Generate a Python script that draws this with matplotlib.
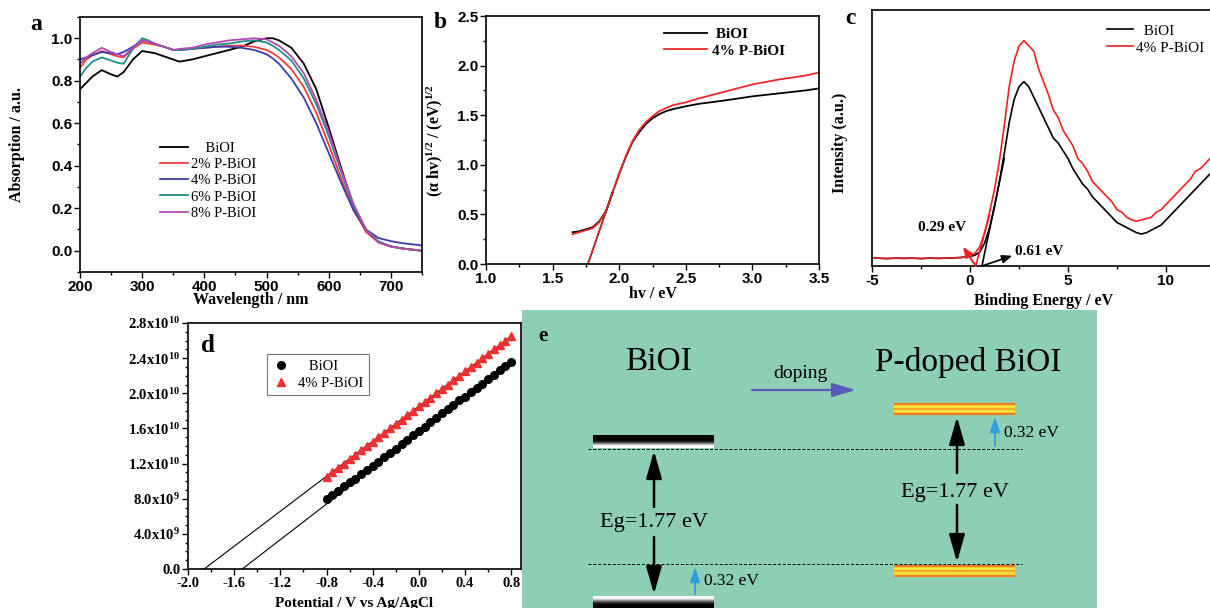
import numpy as np
import matplotlib
matplotlib.use("Agg")
import matplotlib.pyplot as plt
from matplotlib.ticker import MultipleLocator, FixedLocator, FixedFormatter
from matplotlib.patches import FancyArrowPatch
from matplotlib.colors import ListedColormap

plt.rcParams["font.family"] = "Liberation Sans"
plt.rcParams["axes.unicode_minus"] = False
plt.rcParams["mathtext.fontset"] = "custom"
plt.rcParams["mathtext.rm"] = "Liberation Serif"
plt.rcParams["mathtext.it"] = "Liberation Serif:italic"
plt.rcParams["mathtext.bf"] = "Liberation Serif:bold"
SERIF = "Liberation Serif"

# ---------------------------------------------------------
# data: (a) UV-vis absorption
# ---------------------------------------------------------
wl = [200, 210, 220, 235, 250, 260, 270, 285, 300, 310, 320, 335, 350, 360, 380, 400, 420,
      440, 460, 480, 500, 510, 520, 540, 560, 580, 600, 620, 640, 660, 680, 700, 720, 750]
abs_biol = [.76, .79, .82, .85, .83, .82, .84, .90, .94, .935, .93, .915, .90, .89, .90, .915, .93,
            .945, .96, .985, 1.0, 1.0, .99, .955, .88, .76, .58, .39, .21, .09, .04, .02, .01, .0]
abs_p2 = [.86, .90, .92, .94, .925, .915, .91, .95, .98, .975, .97, .96, .945, .945, .95, .955, .96,
          .965, .965, .96, .945, .93, .91, .855, .77, .65, .50, .34, .19, .09, .04, .02, .01, .0]
abs_p4 = [.90, .91, .92, .935, .93, .925, .935, .96, .99, .985, .975, .96, .945, .945, .95, .955, .96,
          .96, .955, .945, .925, .905, .88, .81, .72, .60, .46, .32, .19, .10, .06, .045, .035, .025]
abs_p6 = [.82, .86, .89, .91, .895, .885, .88, .95, 1.0, .99, .975, .96, .945, .945, .95, .96, .97,
          .975, .985, .99, .98, .965, .945, .895, .81, .69, .54, .37, .21, .10, .045, .02, .01, .0]
abs_p8 = [.88, .91, .93, .955, .935, .925, .915, .955, .99, .985, .975, .96, .945, .95, .955, .97, .98,
          .99, .995, 1.0, .995, .98, .965, .915, .835, .71, .56, .38, .22, .10, .04, .02, .01, .0]

# (b) Tauc plot
hv = [1.65, 1.70, 1.75, 1.80, 1.85, 1.90, 1.95, 2.00, 2.05, 2.10, 2.15, 2.20, 2.25, 2.30, 2.35,
      2.40, 2.50, 2.60, 2.80, 3.00, 3.20, 3.40, 3.50]
tauc_biol = [.32, .33, .35, .37, .43, .53, .72, .91, 1.08, 1.23, 1.33, 1.41, 1.47, 1.51, 1.54,
             1.56, 1.59, 1.615, 1.65, 1.69, 1.72, 1.75, 1.77]
tauc_p4 = [.30, .32, .34, .36, .42, .53, .72, .91, 1.09, 1.24, 1.35, 1.43, 1.49, 1.54, 1.57,
           1.60, 1.63, 1.67, 1.74, 1.81, 1.86, 1.90, 1.93]
eg_fit_x = [1.765, 1.95]
eg_fit_y = [0.0, 0.72]

# (c) VB-XPS
be = np.arange(-5.0, 12.51, 0.25)
xps_biol = [.030, .031, .030, .029, .030, .031, .030, .030, .031, .030, .029, .030, .031, .030,
            .030, .031, .031, .032, .033, .035,
            .038, .042, .055, .09, .15, .23, .33, .44, .56, .65, .70, .72, .70, .66, .62, .58,
            .54, .50, .48, .45, .42, .38, .35, .32, .30, .27, .25, .23, .21, .19, .17, .16,
            .15, .14, .13, .125, .13, .14, .15, .16, .18, .20, .22, .24, .26, .28, .30, .32,
            .34, .36, .38]
xps_p4 = [.030, .031, .030, .029, .030, .031, .030, .030, .031, .030, .029, .030, .031, .030,
          .030, .031, .032, .032, .033, .035,
          .040, .050, .075, .13, .21, .30, .41, .55, .70, .80, .86, .88, .86, .84, .77, .72,
          .67, .61, .58, .53, .50, .47, .42, .40, .37, .33, .31, .29, .27, .25, .22, .21,
          .19, .18, .175, .18, .185, .19, .21, .22, .24, .26, .28, .30, .32, .34, .37, .38,
          .40, .42, .45]
vb_fit_biol_x = [0.61, 1.75]
vb_fit_biol_y = [0.0, 0.42]
vb_fit_p4_x = [0.29, 1.0]
vb_fit_p4_y = [0.0, 0.20]

# (d) Mott-Schottky
pot = [-0.80, -0.75, -0.70, -0.65, -0.60, -0.55, -0.50, -0.45, -0.40, -0.35, -0.30, -0.25,
       -0.20, -0.15, -0.10, -0.05, 0.00, 0.05, 0.10, 0.15, 0.20, 0.25, 0.30, 0.35, 0.40,
       0.45, 0.50, 0.55, 0.60, 0.65, 0.70, 0.75, 0.80]
ms_biol = [0.80, 0.84, 0.89, 0.94, 0.99, 1.03, 1.08, 1.13, 1.17, 1.22, 1.27, 1.32, 1.37, 1.42,
           1.47, 1.52, 1.57, 1.62, 1.67, 1.72, 1.77, 1.82, 1.87, 1.92, 1.96, 2.01, 2.06, 2.11,
           2.16, 2.21, 2.26, 2.31, 2.36]
ms_p4 = [1.05, 1.10, 1.15, 1.20, 1.25, 1.30, 1.35, 1.40, 1.45, 1.50, 1.55, 1.60, 1.65, 1.70,
         1.75, 1.80, 1.85, 1.90, 1.95, 2.00, 2.05, 2.10, 2.15, 2.20, 2.25, 2.30, 2.35, 2.40,
         2.45, 2.50, 2.55, 2.60, 2.65]
fb_biol = [-1.53, 0.80]
fb_biol_y = [0.0, 2.36]
fb_p4 = [-1.86, 0.80]
fb_p4_y = [0.0, 2.65]
ms_yticks = [0.0, 0.4, 0.8, 1.2, 1.6, 2.0, 2.4, 2.8]
ms_ylabels = ["0.0", r"4.0x10$^{\mathbf{9}}$", r"8.0x10$^{\mathbf{9}}$", r"1.2x10$^{\mathbf{10}}$",
              r"1.6x10$^{\mathbf{10}}$", r"2.0x10$^{\mathbf{10}}$", r"2.4x10$^{\mathbf{10}}$",
              r"2.8x10$^{\mathbf{10}}$"]

W, H = 1210, 608


def px_axes(l, t, r, b):
    return fig.add_axes([l / W, (H - b) / H, (r - l) / W, (b - t) / H])


def style(ax, sans=True):
    for s in ax.spines.values():
        s.set_linewidth(1.2)
    ax.tick_params(which="both", direction="out", top=False, right=False, width=1.0)
    ax.tick_params(which="major", length=4, pad=1.5, labelsize=11)
    ax.tick_params(which="minor", length=2.5)
    for lab in ax.get_xticklabels() + ax.get_yticklabels():
        lab.set_fontweight("bold")
        if not sans:
            lab.set_fontfamily(SERIF)


def panel_label(x, y, s, size=17):
    fig.text(x / W, 1 - y / H, s, fontfamily=SERIF, fontweight="bold", fontsize=size,
             ha="center", va="center")


fig = plt.figure(figsize=(W / 100, H / 100), dpi=100)

# ---------------------------------------------------------
# (a)
# ---------------------------------------------------------
ax = px_axes(80, 17, 422, 272)
ax.plot(wl, abs_biol, color="black", lw=1.3, label="    BiOI")
ax.plot(wl, abs_p2, color="#f03a3a", lw=1.3, label="2% P-BiOI")
ax.plot(wl, abs_p4, color="#3a3fa8", lw=1.3, label="4% P-BiOI")
ax.plot(wl, abs_p6, color="#1f8f8a", lw=1.3, label="6% P-BiOI")
ax.plot(wl, abs_p8, color="#b548b5", lw=1.3, label="8% P-BiOI")
ax.set_xlim(200, 750)
ax.set_ylim(-0.1, 1.1)
ax.xaxis.set_major_locator(FixedLocator([200, 300, 400, 500, 600, 700]))
ax.xaxis.set_minor_locator(MultipleLocator(50))
ax.yaxis.set_major_locator(FixedLocator([0.0, 0.2, 0.4, 0.6, 0.8, 1.0]))
ax.yaxis.set_minor_locator(MultipleLocator(0.1))
ax.yaxis.set_major_formatter(lambda v, p: f"{v:.1f}")
style(ax)
ax.set_xlabel("Wavelength / nm", fontfamily=SERIF, fontweight="bold", fontsize=11.5)
ax.set_ylabel("Absorption / a.u.", fontfamily=SERIF, fontweight="bold", fontsize=11.5)
ax.xaxis.set_label_coords(0.5, -0.078)
ax.yaxis.set_label_coords(-0.16, 0.5)
ax.legend(loc="upper left", bbox_to_anchor=(0.235, 0.51), frameon=False,
          prop={"family": SERIF, "size": 10.5}, handlelength=1.9, handletextpad=0.2,
          labelspacing=0.2, borderpad=0, borderaxespad=0)
panel_label(36, 24, "a")

# ---------------------------------------------------------
# (b)
# ---------------------------------------------------------
ax = px_axes(486, 16, 819, 264)
ax.plot(hv, tauc_biol, color="black", lw=1.3, label=" BiOI")
ax.plot(hv, tauc_p4, color="#f02828", lw=1.3, label="4% P-BiOI")
ax.plot(eg_fit_x, eg_fit_y, color="black", lw=1.2)
ax.plot(eg_fit_x, eg_fit_y, color="#f02828", lw=1.0)
ax.set_xlim(1.0, 3.5)
ax.set_ylim(0, 2.5)
ax.xaxis.set_major_locator(MultipleLocator(0.5))
ax.xaxis.set_minor_locator(MultipleLocator(0.25))
ax.yaxis.set_major_locator(MultipleLocator(0.5))
ax.yaxis.set_minor_locator(MultipleLocator(0.25))
ax.xaxis.set_major_formatter(lambda v, p: f"{v:.1f}")
ax.yaxis.set_major_formatter(lambda v, p: f"{v:.1f}")
style(ax)
ax.set_xlabel("hv / eV", fontfamily=SERIF, fontweight="bold", fontsize=11.5)
ax.set_ylabel(r"($\mathbf{\alpha}$ hv)$^{\mathbf{1/2}}$ / (eV)$^{\mathbf{1/2}}$",
              fontfamily=SERIF, fontweight="bold", fontsize=11.5)
ax.xaxis.set_label_coords(0.5, -0.09)
ax.yaxis.set_label_coords(-0.123, 0.5)
ax.legend(loc="upper left", bbox_to_anchor=(0.535, 0.955), frameon=False,
          prop={"family": SERIF, "size": 11, "weight": "bold"}, handlelength=2.8,
          handletextpad=0.3, labelspacing=0.2, borderpad=0, borderaxespad=0)
panel_label(440, 22, "b")

# ---------------------------------------------------------
# (c)
# ---------------------------------------------------------
ax = px_axes(872, 10, 1215, 266)
ax.plot(be, xps_biol, color="black", lw=1.2, label="  BiOI")
ax.plot(be, xps_p4, color="#f02020", lw=1.2, label="4% P-BiOI")
ax.plot(vb_fit_biol_x, vb_fit_biol_y, color="black", lw=1.2)
ax.plot(vb_fit_p4_x, vb_fit_p4_y, color="#f02020", lw=1.2)
ax.annotate("", xy=(-0.35, 0.075), xytext=(0.29, 0.0),
            arrowprops=dict(arrowstyle="-|>,head_length=0.6,head_width=0.25", color="#f02020",
                            lw=1.5, shrinkA=0, shrinkB=0))
ax.annotate("", xy=(2.15, 0.04), xytext=(0.61, 0.0),
            arrowprops=dict(arrowstyle="-|>,head_length=0.6,head_width=0.25", color="black",
                            lw=1.2, shrinkA=0, shrinkB=0))
ax.text(-1.4, 0.15, "0.29 eV", fontfamily=SERIF, fontweight="bold", fontsize=11,
        ha="center", va="center")
ax.text(2.3, 0.055, "0.61 eV", fontfamily=SERIF, fontweight="bold", fontsize=11,
        ha="left", va="center")
ax.set_xlim(-5, 12.5)
ax.set_ylim(0, 1)
ax.xaxis.set_major_locator(MultipleLocator(5))
ax.xaxis.set_minor_locator(MultipleLocator(2.5))
ax.set_yticks([])
ax.spines["right"].set_visible(False)
style(ax)
ax.set_xlabel("Binding Energy / eV", fontfamily=SERIF, fontweight="bold", fontsize=11.5)
ax.set_ylabel("Intensity (a.u.)", fontfamily=SERIF, fontweight="bold", fontsize=11.5)
ax.xaxis.set_label_coords(0.5, -0.105)
ax.yaxis.set_label_coords(-0.07, 0.48)
ax.legend(loc="upper left", bbox_to_anchor=(0.685, 0.945), frameon=False,
          prop={"family": SERIF, "size": 11}, handlelength=1.7, handletextpad=0.2,
          labelspacing=0.2, borderpad=0, borderaxespad=0)
panel_label(850, 18, "c")

# ---------------------------------------------------------
# (d)
# ---------------------------------------------------------
ax = px_axes(188, 323, 521, 569)
ax.plot(fb_biol, fb_biol_y, color="black", lw=0.8)
ax.plot(fb_p4, fb_p4_y, color="black", lw=0.8)
ax.plot(pot, ms_biol, "o", color="black", ms=5.5, label="   BiOI")
ax.plot(pot, ms_p4, "^", color="#f03030", ms=5.5, label="4% P-BiOI")
ax.set_xlim(-2.0, 0.885)
ax.set_ylim(0, 2.8)
ax.xaxis.set_major_locator(MultipleLocator(0.4))
ax.xaxis.set_minor_locator(MultipleLocator(0.2))
ax.yaxis.set_major_locator(FixedLocator(ms_yticks))
ax.yaxis.set_major_formatter(FixedFormatter(ms_ylabels))
ax.yaxis.set_minor_locator(MultipleLocator(0.1))
ax.xaxis.set_major_formatter(lambda v, p: f"{v:.1f}")
style(ax, sans=False)
ax.tick_params(which="major", labelsize=10.5)
ax.set_xlabel("Potential / V vs Ag/AgCl", fontfamily=SERIF, fontweight="bold", fontsize=11)
ax.xaxis.set_label_coords(0.5, -0.112)
leg = ax.legend(loc="upper left", bbox_to_anchor=(0.237, 0.872), frameon=True, fancybox=False,
                prop={"family": SERIF, "size": 10.5}, handlelength=1.2, handletextpad=0.6,
                labelspacing=0.25, borderpad=0.35, borderaxespad=0)
leg.get_frame().set_edgecolor("#555555")
leg.get_frame().set_linewidth(0.8)
panel_label(208, 345, "d", size=18)

# ---------------------------------------------------------
# (e) band structure schematic (pixel-like coordinates)
# ---------------------------------------------------------
ax = px_axes(522, 310, 1097, 608)
ax.set_facecolor("#8dceb4")
for s in ax.spines.values():
    s.set_visible(False)
ax.set_xticks([])
ax.set_yticks([])

left_x = (593, 714)
right_x = (894, 1015)
cb_level, vb_level = 449, 564
bw_top = [0.0, 0.0, 0.0, 0.0, 0.0, 0.05, 0.15, 0.3, 0.5, 0.75, 0.92, 1.0, 1.0]
bw_bottom = bw_top[::-1]
orange_rows = [0, 0, 1, 1, 1, 0, 1, 1, 1, 0, 0]
oy_cmap = ListedColormap(["#f07c22", "#f7e23a"])

ax.imshow(np.array(bw_top)[:, None], cmap="gray", vmin=0, vmax=1, aspect="auto",
          extent=(left_x[0], left_x[1], 448, 435), origin="upper", interpolation="bilinear")
ax.imshow(np.array(bw_bottom)[:, None], cmap="gray", vmin=0, vmax=1, aspect="auto",
          extent=(left_x[0], left_x[1], 610, 596), origin="upper", interpolation="bilinear")
ax.imshow(np.array(orange_rows)[:, None], cmap=oy_cmap, vmin=0, vmax=1, aspect="auto",
          extent=(right_x[0], right_x[1], 415, 403), origin="upper", interpolation="bilinear")
ax.imshow(np.array(orange_rows)[:, None], cmap=oy_cmap, vmin=0, vmax=1, aspect="auto",
          extent=(right_x[0], right_x[1], 577, 565), origin="upper", interpolation="bilinear")
ax.set_xlim(522, 1097)
ax.set_ylim(608, 310)

for lvl in (cb_level, vb_level):
    ax.plot([588, 1022], [lvl, lvl], color="black", lw=0.7, ls=(0, (3, 2)))


def arrow(x0, y0, x1, y1, color="black", lw=1.8, hl=1.4, hw=0.4, ms=12):
    ax.add_patch(FancyArrowPatch((x0, y0), (x1, y1),
                                 arrowstyle=f"-|>,head_length={hl},head_width={hw}",
                                 mutation_scale=ms, color=color, lw=lw,
                                 shrinkA=0, shrinkB=0))


arrow(654, 507, 654, 451)
arrow(654, 537, 654, 594)
arrow(957, 473, 957, 417)
arrow(957, 505, 957, 562)
arrow(695, 594, 695, 567, color="#2b9fe0", lw=1.3, hl=0.9, hw=0.3, ms=10)
arrow(995, 446, 995, 417, color="#2b9fe0", lw=1.3, hl=0.9, hw=0.3, ms=10)
arrow(752, 390, 856, 390, color="#5a5ab8", lw=1.6, hl=1.2, hw=0.35, ms=12)

ax.text(543, 336, "e", fontfamily=SERIF, fontweight="bold", fontsize=15, ha="center", va="center")
ax.text(658, 362, "BiOI", fontfamily=SERIF, fontsize=24, ha="center", va="center")
ax.text(968, 362, "P-doped BiOI", fontfamily=SERIF, fontsize=24, ha="center", va="center")
ax.text(800, 373, "doping", fontfamily=SERIF, fontsize=14, ha="center", va="center")
ax.text(654, 523, "Eg=1.77 eV", fontfamily=SERIF, fontsize=16, ha="center", va="center",
        bbox=dict(facecolor="#8dceb4", edgecolor="none", pad=1))
ax.text(955, 492, "Eg=1.77 eV", fontfamily=SERIF, fontsize=16, ha="center", va="center",
        bbox=dict(facecolor="#8dceb4", edgecolor="none", pad=1))
ax.text(704, 581, "0.32 eV", fontfamily=SERIF, fontsize=12.5, ha="left", va="center")
ax.text(1004, 433, "0.32 eV", fontfamily=SERIF, fontsize=12.5, ha="left", va="center")

fig.savefig("out.png", dpi=100)
